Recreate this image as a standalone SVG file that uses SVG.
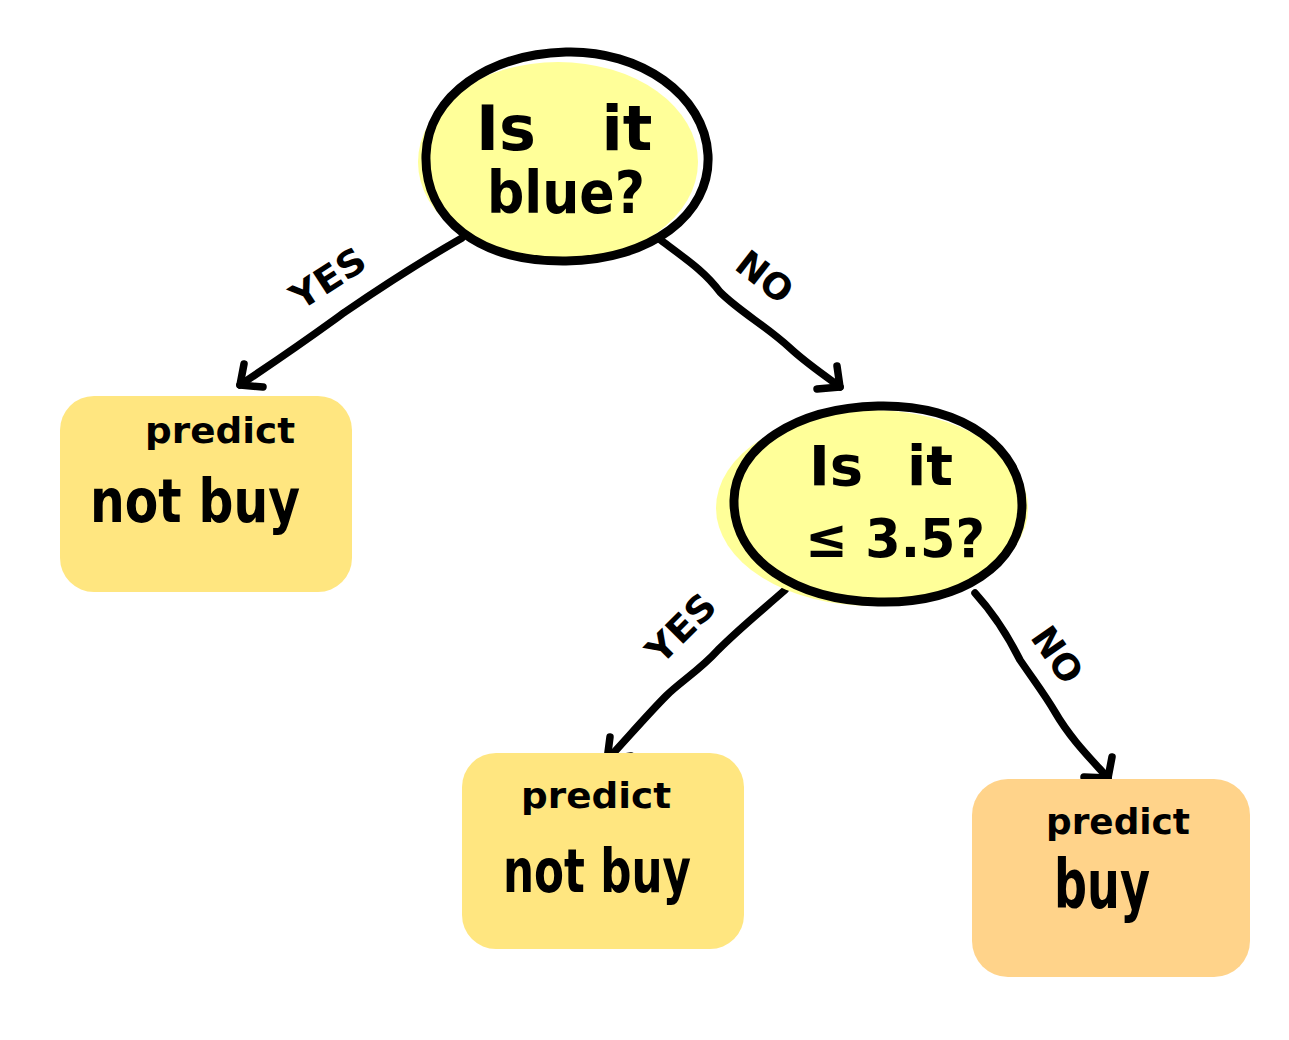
<svg xmlns="http://www.w3.org/2000/svg" width="1289" height="1040" viewBox="0 0 1289 1040">
<style>
.t{font-family:"DejaVu Sans","Liberation Sans",sans-serif;font-weight:bold;fill:#000;text-anchor:middle}
.ol{fill:none;stroke:#000;stroke-width:9;stroke-linecap:round;stroke-linejoin:round}
.ln{fill:none;stroke:#000;stroke-width:7.5;stroke-linecap:round;stroke-linejoin:round}
.lb{font-family:"DejaVu Sans","Liberation Sans",sans-serif;font-weight:bold;font-size:36px;fill:#000;text-anchor:middle}
</style>
<rect width="1289" height="1040" fill="#fff"/>
<g id="connectors">
<path class="ln" d="M462,238 C420,262 380,288 345,312 C320,330 300,345 240,385"/>
<path class="ln" d="M244,364 L240,385 L263,387"/>
<text class="lb" transform="translate(335,289) rotate(-33)" textLength="82" lengthAdjust="spacingAndGlyphs">YES</text>
<path class="ln" d="M658,238 C690,262 705,272 720,292 C740,312 765,325 790,348 C805,362 820,372 840,387"/>
<path class="ln" d="M837,366 L840,387 L817,389"/>
<text class="lb" transform="translate(757,287) rotate(38)">NO</text>
<path class="ln" d="M785,590 C760,612 740,628 718,650 C700,670 680,682 666,696 C650,712 630,735 607,760"/>
<path class="ln" d="M610,737 L607,760 L631,756"/>
<text class="lb" transform="translate(690,637) rotate(-45)" textLength="82" lengthAdjust="spacingAndGlyphs">YES</text>
<path class="ln" d="M975,593 C995,615 1010,640 1020,660 C1035,682 1045,695 1055,712 C1070,738 1090,758 1108,778"/>
<path class="ln" d="M1112,757 L1108,778 L1084,777"/>
<text class="lb" transform="translate(1047,662) rotate(55)">NO</text>
</g>
<g id="q1">
<ellipse cx="558" cy="162" rx="140" ry="100" fill="#FFFF99"/>
<path class="ol" d="M566,52 C640,50 705,95 708,155 C711,215 650,260 566,261 C480,262 424,220 426,155 C428,95 490,54 566,52 Z"/>
<text class="t" x="506" y="150" font-size="62">Is</text>
<text class="t" x="627" y="150" font-size="62">it</text>
<text class="t" x="566" y="213" font-size="58" textLength="158" lengthAdjust="spacingAndGlyphs">blue?</text>
</g>
<g id="q2">
<ellipse cx="872" cy="508" rx="156" ry="98" fill="#FFFF99"/>
<path class="ol" d="M878,406 C965,404 1022,450 1022,505 C1022,565 960,604 878,602 C795,600 733,560 734,500 C735,448 795,408 878,406 Z"/>
<text class="t" x="836" y="485" font-size="56">Is</text>
<text class="t" x="930" y="485" font-size="56">it</text>
<text class="t" x="895" y="557" font-size="54" textLength="180" lengthAdjust="spacingAndGlyphs">≤ 3.5?</text>
</g>
<g id="leaf1">
<rect x="60" y="396" width="292" height="196" rx="34" fill="#FFE680"/>
<text class="t" x="220" y="443" font-size="36" textLength="150" lengthAdjust="spacingAndGlyphs">predict</text>
<text class="t" x="195" y="522" font-size="60" textLength="210" lengthAdjust="spacingAndGlyphs">not buy</text>
</g>
<g id="leaf2">
<rect x="462" y="753" width="282" height="196" rx="34" fill="#FFE680"/>
<text class="t" x="596" y="808" font-size="36" textLength="150" lengthAdjust="spacingAndGlyphs">predict</text>
<text class="t" x="597" y="892" font-size="60" textLength="188" lengthAdjust="spacingAndGlyphs">not buy</text>
</g>
<g id="leaf3">
<rect x="972" y="779" width="278" height="198" rx="36" fill="#FFD38A"/>
<text class="t" x="1118" y="834" font-size="36" textLength="144" lengthAdjust="spacingAndGlyphs">predict</text>
<text class="t" x="1102" y="908" font-size="68" textLength="96" lengthAdjust="spacingAndGlyphs">buy</text>
</g>
</svg>
